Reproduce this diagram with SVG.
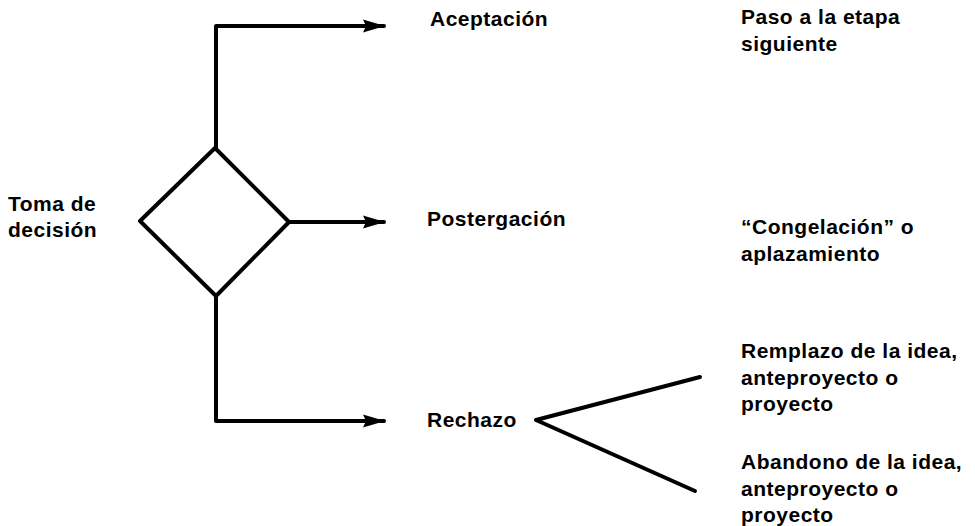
<svg xmlns="http://www.w3.org/2000/svg" width="975" height="526" viewBox="0 0 975 526">
<defs>
<marker id="ah" markerWidth="22" markerHeight="14" refX="21" refY="7" orient="auto" markerUnits="userSpaceOnUse" viewBox="0 0 22 14"><path d="M0,0.5 L22,7 L0,13.5 L3,7 Z" fill="#000"/></marker>
</defs>
<style>
.t{font-family:"Liberation Sans",Arial,sans-serif;font-weight:bold;font-size:21px;letter-spacing:0.5px;fill:#000}
.l{fill:none;stroke:#000;stroke-width:4;stroke-linecap:round;stroke-linejoin:round}
</style>
<rect width="975" height="526" fill="#fff"/>
<g id="connectors">
<path class="l" d="M216,148 L216,26 L384,26" marker-end="url(#ah)"/>
<path class="l" d="M289,222 L384,222" marker-end="url(#ah)"/>
<path class="l" d="M216,296 L216,421 L384,421" marker-end="url(#ah)"/>
<path class="l" d="M700,377 L536,420 L695,491"/>
</g>
<g id="decision"><path class="l" d="M215,148 L289,222 L216,296 L140,221 Z"/></g>
<g id="toma"><text class="t" x="8" y="211">Toma de</text><text class="t" x="8" y="237">decisión</text></g>
<g id="aceptacion"><text class="t" x="430" y="26">Aceptación</text></g>
<g id="postergacion"><text class="t" x="427" y="226">Postergación</text></g>
<g id="rechazo"><text class="t" x="427" y="427">Rechazo</text></g>
<g id="paso"><text class="t" x="741" y="24">Paso a la etapa</text><text class="t" x="741" y="51">siguiente</text></g>
<g id="congelacion"><text class="t" x="741" y="234">“Congelación” o</text><text class="t" x="741" y="261">aplazamiento</text></g>
<g id="remplazo"><text class="t" x="741" y="358">Remplazo de la idea,</text><text class="t" x="741" y="385">anteproyecto o</text><text class="t" x="741" y="411">proyecto</text></g>
<g id="abandono"><text class="t" x="741" y="469">Abandono de la idea,</text><text class="t" x="741" y="496">anteproyecto o</text><text class="t" x="741" y="522">proyecto</text></g>
</svg>
